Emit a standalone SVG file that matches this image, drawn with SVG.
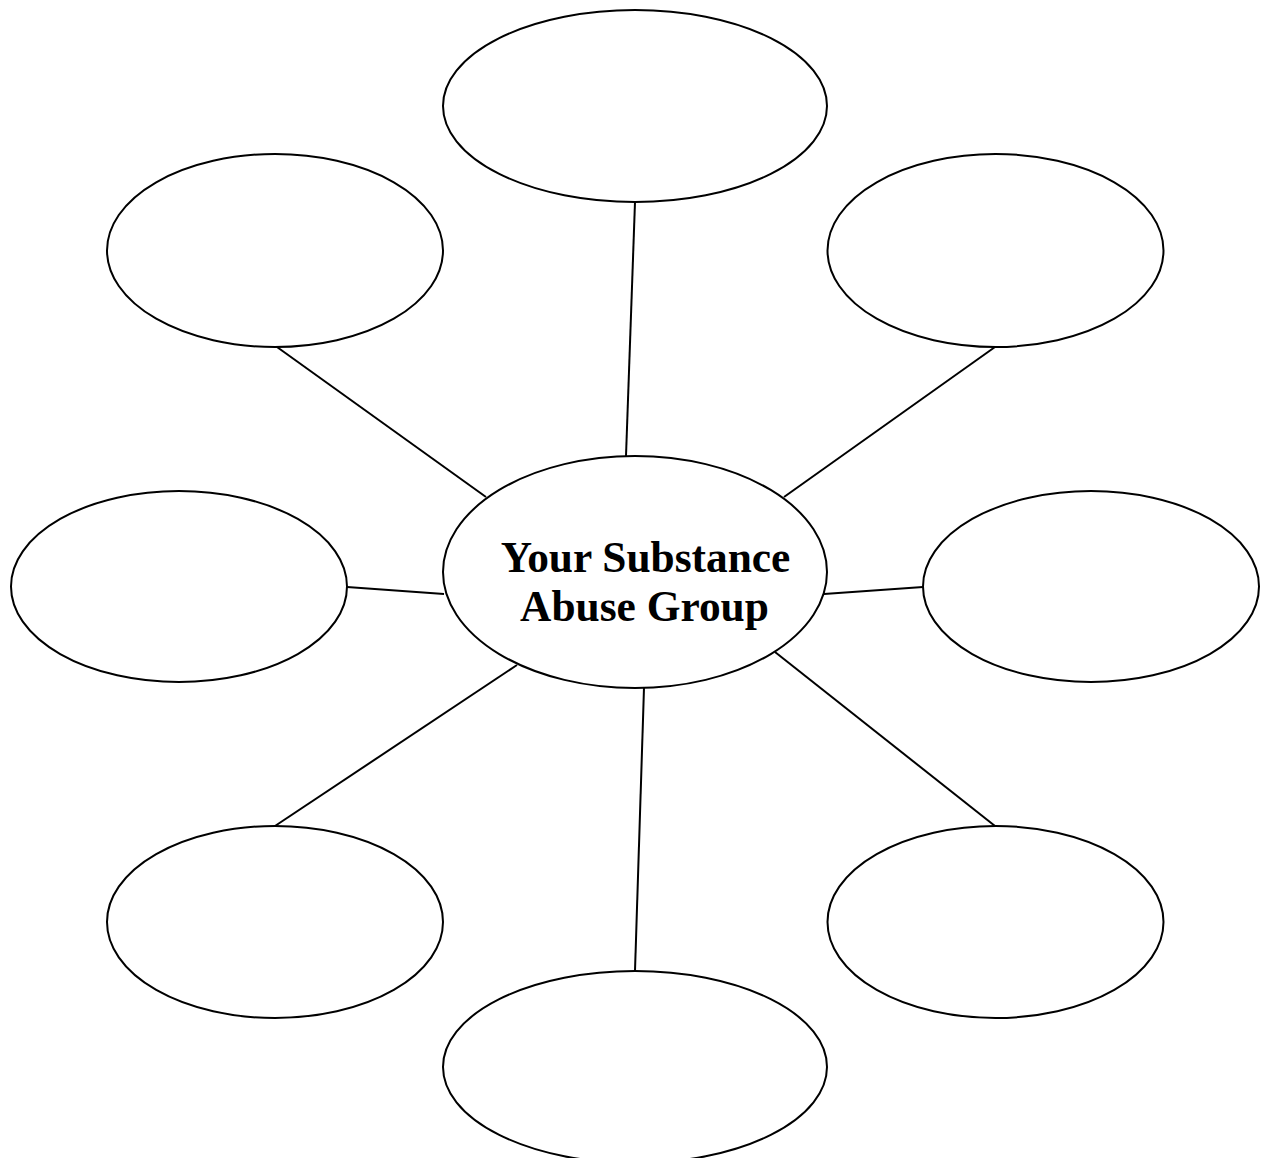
<svg xmlns="http://www.w3.org/2000/svg" width="1263" height="1158" viewBox="0 0 1263 1158">
  <style>
    .node { fill: #ffffff; stroke: #000000; stroke-width: 2; }
    .link { stroke: #000000; stroke-width: 2; fill: none; }
    .label { font-family: "Liberation Serif", "Times New Roman", serif; font-weight: bold; font-size: 43.4px; fill: #000000; text-anchor: middle; }
  </style>
  <rect width="1263" height="1158" fill="#ffffff"/>

  <!-- spokes from the hub to the outer bubbles -->
  <g id="connectors">
    <line class="link" x1="635" y1="202" x2="626" y2="456"/>
    <line class="link" x1="277" y1="347" x2="486" y2="497"/>
    <line class="link" x1="995" y1="347" x2="784" y2="497"/>
    <line class="link" x1="347" y1="587" x2="444" y2="594"/>
    <line class="link" x1="923" y1="587" x2="824" y2="594"/>
    <line class="link" x1="275" y1="826" x2="517" y2="665"/>
    <line class="link" x1="995" y1="826" x2="775" y2="652"/>
    <line class="link" x1="644" y1="688" x2="635" y2="971"/>
  </g>

  <g id="hub">
    <ellipse class="node" cx="635" cy="572" rx="192" ry="116"/>
    <text class="label" x="645.5" y="572">Your Substance</text>
    <text class="label" x="644.5" y="621">Abuse Group</text>
  </g>

  <g id="bubble-top"><ellipse class="node" cx="635" cy="106" rx="192" ry="96"/></g>
  <g id="bubble-top-left"><ellipse class="node" cx="275" cy="250.5" rx="168" ry="96.5"/></g>
  <g id="bubble-top-right"><ellipse class="node" cx="995.5" cy="250.5" rx="168" ry="96.5"/></g>
  <g id="bubble-left"><ellipse class="node" cx="179" cy="586.5" rx="168" ry="95.5"/></g>
  <g id="bubble-right"><ellipse class="node" cx="1091" cy="586.5" rx="168" ry="95.5"/></g>
  <g id="bubble-bottom-left"><ellipse class="node" cx="275" cy="922" rx="168" ry="96"/></g>
  <g id="bubble-bottom-right"><ellipse class="node" cx="995.5" cy="922" rx="168" ry="96"/></g>
  <g id="bubble-bottom"><ellipse class="node" cx="635" cy="1067" rx="192" ry="96"/></g>
</svg>
